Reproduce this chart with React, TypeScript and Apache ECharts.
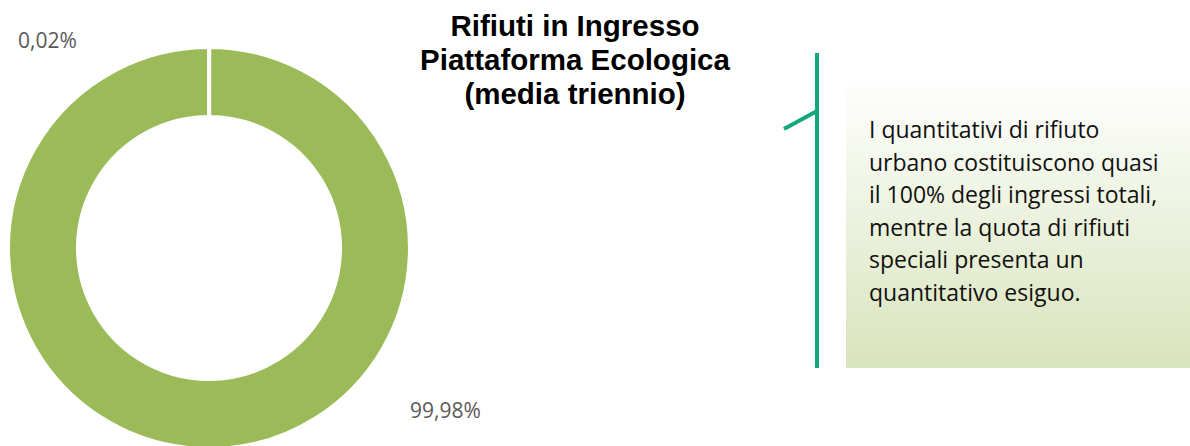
import React, { useEffect, useRef } from "react";
import * as echarts from "echarts";

const categories = ["Rifiuti speciali", "Rifiuti urbani"];
const shares = [0.02, 99.98];
const sliceColors = ["#77933C", "#9BBB59"];
const titleLines = ["Rifiuti in Ingresso", "Piattaforma Ecologica", "(media triennio)"];
const noteLines = [
  "I quantitativi di rifiuto",
  "urbano costituiscono quasi",
  "il 100% degli ingressi totali,",
  "mentre la quota di rifiuti",
  "speciali presenta un",
  "quantitativo esiguo.",
];
const labelAnchors = [
  [18, 40],
  [410, 410],
];

export default function App() {
  const ref = useRef<HTMLDivElement>(null);
  useEffect(() => {
    if (!ref.current) return;
    const chart = echarts.init(ref.current, null, { renderer: "svg" });
    chart.setOption({
      animation: false,
      backgroundColor: "#ffffff",
      title: {
        text: titleLines.join("\n"),
        left: 570,
        top: 3,
        textAlign: "center",
        textStyle: {
          fontFamily: "Liberation Sans, Arial, sans-serif",
          fontWeight: "bold",
          fontSize: 29.5,
          lineHeight: 34,
          color: "#000000",
        },
      },
      series: [
        {
          type: "pie",
          center: [209, 248],
          radius: [131, 201],
          startAngle: 90,
          clockwise: true,
          avoidLabelOverlap: false,
          itemStyle: { borderColor: "#ffffff", borderWidth: 4 },
          label: {
            show: true,
            position: "outside",
            fontFamily: "Open Sans, sans-serif",
            fontSize: 21,
            color: "#595959",
            formatter: (p: any) => p.value.toFixed(2).replace(".", ",") + "%",
          },
          labelLine: { show: false },
          labelLayout: (p: any) => {
            const a = labelAnchors[p.dataIndex];
            return { x: a[0], y: a[1], align: "left", verticalAlign: "middle" };
          },
          emphasis: { disabled: true },
          data: categories.map((c, i) => ({
            name: c,
            value: shares[i],
            itemStyle: { color: sliceColors[i] },
          })),
        },
      ],
      graphic: [
        {
          type: "rect",
          shape: { x: 846, y: 76, width: 344, height: 292 },
          style: {
            fill: new echarts.graphic.LinearGradient(0, 0, 0, 1, [
              { offset: 0, color: "#ffffff" },
              { offset: 1, color: "#D8E4BC" },
            ]),
          },
        },
        {
          type: "line",
          shape: { x1: 817, y1: 53, x2: 817, y2: 368 },
          style: { stroke: "#13A77C", lineWidth: 4 },
        },
        {
          type: "line",
          shape: { x1: 784, y1: 129, x2: 817, y2: 111 },
          style: { stroke: "#13A77C", lineWidth: 4 },
        },
        {
          type: "text",
          x: 869,
          y: 113,
          style: {
            text: noteLines.join("\n"),
            fontFamily: "Open Sans, sans-serif",
            fontSize: 23,
            lineHeight: 32.5,
            fill: "#111111",
          },
        },
      ],
    });
    return () => chart.dispose();
  }, []);
  return (
    <div
      ref={ref}
      style={{ position: "fixed", left: 0, top: 0, width: 1190, height: 446 }}
    />
  );
}
